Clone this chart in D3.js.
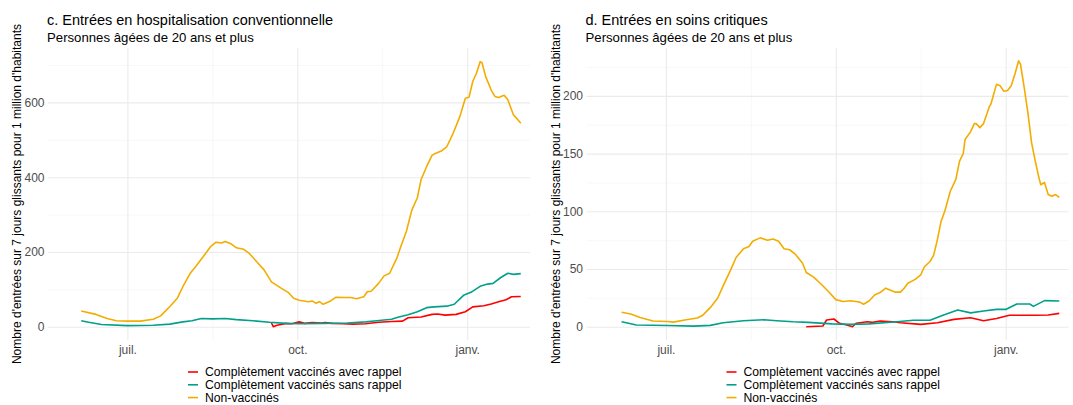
<!DOCTYPE html>
<html lang="fr">
<head>
<meta charset="utf-8">
<script src="https://cdn.jsdelivr.net/npm/d3@7"></script>
<style>
  html, body { margin: 0; padding: 0; background: #ffffff; }
  svg { display: block; font-family: "Liberation Sans", Arial, sans-serif; }
</style>
</head>
<body>
<svg id="chart" width="1073" height="405"></svg>
<script>
// Entrées pour 1 million d'habitants (moyenne glissante 7 jours), 20 ans et plus
const seriesNames = [
  "Complètement vaccinés avec rappel",
  "Complètement vaccinés sans rappel",
  "Non-vaccinés"
];
const seriesColors = ["#FF0000", "#00A08A", "#F2AD00"];

const monthTicks = ["2021-07-01", "2021-10-01", "2022-01-01"];
const monthLabels = ["juil.", "oct.", "janv."];
const monthMinorTicks = ["2021-08-16", "2021-11-16"];
const xDomain = ["2021-05-19", "2022-02-04"];

// c. Hospitalisation conventionnelle
const hospRappel = [
  ["2021-09-17",10],["2021-09-18",0],["2021-09-20",4],["2021-09-25",9],["2021-09-28",8],
  ["2021-10-02",13],["2021-10-05",9],["2021-10-09",11],["2021-10-14",10],["2021-10-16",11],
  ["2021-10-20",9],["2021-10-26",8],["2021-10-31",7],["2021-11-07",8],["2021-11-14",12],
  ["2021-11-21",14],["2021-11-27",15],["2021-11-30",24],["2021-12-07",26],["2021-12-13",33],
  ["2021-12-16",34],["2021-12-20",31],["2021-12-26",33],["2021-12-31",40],["2022-01-04",53],
  ["2022-01-10",56],["2022-01-14",61],["2022-01-18",67],["2022-01-22",72],["2022-01-25",80],
  ["2022-01-30",81]
];
const hospSansRappel = [
  ["2021-06-06",16],["2021-06-10",12],["2021-06-17",6],["2021-07-01",3],["2021-07-15",4],
  ["2021-07-24",7],["2021-07-31",13],["2021-08-05",16],["2021-08-10",22],["2021-08-16",21],
  ["2021-08-23",22],["2021-08-29",19],["2021-09-07",16],["2021-09-16",12],["2021-09-25",9],
  ["2021-10-02",8],["2021-10-15",9],["2021-10-28",10],["2021-11-07",13],["2021-11-13",16],
  ["2021-11-21",20],["2021-11-25",26],["2021-11-30",32],["2021-12-05",40],["2021-12-10",51],
  ["2021-12-14",53],["2021-12-21",55],["2021-12-25",60],["2021-12-30",84],["2022-01-03",92],
  ["2022-01-08",108],["2022-01-12",114],["2022-01-15",116],["2022-01-19",131],["2022-01-23",143],
  ["2022-01-26",140],["2022-01-30",142]
];
const hospNonVaccines = [
  ["2021-06-06",42],["2021-06-14",33],["2021-06-20",22],["2021-06-25",16],["2021-07-01",15],
  ["2021-07-08",15],["2021-07-15",20],["2021-07-19",29],["2021-07-24",54],["2021-07-28",76],
  ["2021-07-31",107],["2021-08-04",143],["2021-08-07",161],["2021-08-11",187],["2021-08-15",214],
  ["2021-08-18",226],["2021-08-21",224],["2021-08-23",228],["2021-08-26",222],["2021-08-29",211],
  ["2021-09-02",207],["2021-09-05",196],["2021-09-09",174],["2021-09-13",152],["2021-09-17",120],
  ["2021-09-22",104],["2021-09-26",92],["2021-09-29",76],["2021-10-02",71],["2021-10-07",67],
  ["2021-10-09",69],["2021-10-11",63],["2021-10-13",67],["2021-10-15",60],["2021-10-19",69],
  ["2021-10-22",79],["2021-10-27",78],["2021-10-30",78],["2021-11-02",75],["2021-11-06",80],
  ["2021-11-08",94],["2021-11-10",95],["2021-11-14",116],["2021-11-17",136],["2021-11-20",143],
  ["2021-11-24",185],["2021-11-26",214],["2021-11-29",254],["2021-12-02",312],["2021-12-05",345],
  ["2021-12-07",393],["2021-12-10",428],["2021-12-13",459],["2021-12-15",464],["2021-12-18",470],
  ["2021-12-21",482],["2021-12-24",513],["2021-12-28",562],["2021-12-31",611],["2022-01-02",614],
  ["2022-01-04",656],["2022-01-06",678],["2022-01-08",709],["2022-01-09",706],["2022-01-11",669],
  ["2022-01-14",633],["2022-01-16",616],["2022-01-18",613],["2022-01-21",619],["2022-01-23",607],
  ["2022-01-26",567],["2022-01-28",556],["2022-01-30",544]
];

// d. Soins critiques
const critRappel = [
  ["2021-09-15",0],["2021-09-24",0.6],["2021-09-26",5.8],["2021-09-30",6.7],["2021-10-03",3],
  ["2021-10-07",1.5],["2021-10-10",0],["2021-10-12",3],["2021-10-18",4.3],["2021-10-21",3.8],
  ["2021-10-25",5],["2021-11-01",4.3],["2021-11-05",3.5],["2021-11-16",2],["2021-11-25",3.5],
  ["2021-12-04",6.4],["2021-12-13",7.8],["2021-12-20",5.2],["2021-12-27",7.2],["2022-01-03",10],
  ["2022-01-18",10],["2022-01-24",10.2],["2022-01-30",11.6]
];
const critSansRappel = [
  ["2021-06-07",4.3],["2021-06-15",1.5],["2021-07-02",1],["2021-07-16",0.5],["2021-07-25",1.2],
  ["2021-08-01",3.5],["2021-08-12",5.2],["2021-08-23",6],["2021-08-30",5.2],["2021-09-08",4.3],
  ["2021-09-16",3.8],["2021-09-29",2.5],["2021-10-09",2],["2021-10-19",2.5],["2021-11-03",4.3],
  ["2021-11-12",5.6],["2021-11-21",5.6],["2021-11-28",10],["2021-12-06",14.5],["2021-12-13",12],
  ["2021-12-20",13.6],["2021-12-27",15],["2022-01-01",15],["2022-01-07",19.7],["2022-01-14",19.7],
  ["2022-01-16",17.6],["2022-01-22",22.6],["2022-01-30",22.3]
];
const critNonVaccines = [
  ["2021-06-07",12.5],["2021-06-12",11],["2021-06-17",8],["2021-06-24",5],["2021-07-02",4.5],
  ["2021-07-05",4],["2021-07-12",6],["2021-07-18",7.5],["2021-07-21",10],["2021-07-25",16.5],
  ["2021-07-29",24.7],["2021-08-01",35.4],["2021-08-05",49],["2021-08-08",60],["2021-08-12",67.6],
  ["2021-08-15",69.5],["2021-08-17",74],["2021-08-21",77],["2021-08-25",75],["2021-08-28",76],
  ["2021-08-31",74],["2021-09-03",67.6],["2021-09-06",66.7],["2021-09-09",63],["2021-09-13",55],
  ["2021-09-15",47],["2021-09-19",43],["2021-09-23",37],["2021-09-27",30.5],["2021-10-01",23.5],
  ["2021-10-05",21.8],["2021-10-09",22.5],["2021-10-12",21.8],["2021-10-14",21.3],["2021-10-16",19.5],
  ["2021-10-19",22.3],["2021-10-22",27.5],["2021-10-25",29.6],["2021-10-28",33.4],["2021-10-30",32],
  ["2021-11-02",30],["2021-11-05",30],["2021-11-07",33.4],["2021-11-09",37.7],["2021-11-13",41],
  ["2021-11-16",45],["2021-11-18",52],["2021-11-21",56.5],["2021-11-23",62],["2021-11-25",75.4],
  ["2021-11-27",91.3],["2021-11-29",100],["2021-12-02",117.4],["2021-12-05",127.6],["2021-12-07",143.5],
  ["2021-12-09",150],["2021-12-10",162.3],["2021-12-13",169],["2021-12-15",176],["2021-12-16",176],
  ["2021-12-18",172.5],["2021-12-20",176],["2021-12-23",190],["2021-12-24",193],["2021-12-27",210],
  ["2021-12-29",208.7],["2021-12-31",204],["2022-01-02",204.6],["2022-01-04",208.7],["2022-01-06",219],
  ["2022-01-08",230.4],["2022-01-09",227.5],["2022-01-11",207.3],["2022-01-13",185.5],["2022-01-15",159.5],
  ["2022-01-17",143.5],["2022-01-19",129],["2022-01-20",123],["2022-01-22",125],["2022-01-24",114.5],
  ["2022-01-26",113],["2022-01-28",114.5],["2022-01-30",112]
];

const hospTicks = [0, 200, 400, 600];
const hospMinorTicks = [100, 300, 500, 700];
const critTicks = [0, 50, 100, 150, 200];
const critMinorTicks = [25, 75, 125, 175, 225];

const yAxisTitle = "Nombre d'entrées sur 7 jours glissants pour 1 million d'habitants";
const subtitle = "Personnes âgées de 20 ans et plus";

const panels = [
  {
    title: "c. Entrées en hospitalisation conventionnelle",
    series: [hospRappel, hospSansRappel, hospNonVaccines],
    yDomain: [-35.5, 745.5], ticks: hospTicks, minor: hospMinorTicks, left: 48
  },
  {
    title: "d. Entrées en soins critiques",
    series: [critRappel, critSansRappel, critNonVaccines],
    yDomain: [-11.5, 241.5], ticks: critTicks, minor: critMinorTicks, left: 586.5
  }
];

const parse = d3.utcParse("%Y-%m-%d");
const svg = d3.select("#chart");
const panelW = 482, panelTop = 48, panelBottom = 340;
const font = "Liberation Sans, Arial, sans-serif";

panels.forEach(p => {
  const g = svg.append("g").attr("transform", `translate(${p.left},0)`);
  const x = d3.scaleUtc().domain(xDomain.map(parse)).range([0, panelW]);
  const y = d3.scaleLinear().domain(p.yDomain).range([panelBottom, panelTop]);

  // minor grid
  g.append("g").call(d3.axisLeft(y).tickValues(p.minor).tickSize(-panelW).tickFormat(""))
    .call(a => a.select(".domain").remove())
    .call(a => a.selectAll("line").attr("stroke", "#f4f4f4").attr("stroke-width", 0.6));
  g.append("g").attr("transform", `translate(0,${panelBottom})`)
    .call(d3.axisBottom(x).tickValues(monthMinorTicks.map(parse))
      .tickSize(-(panelBottom - panelTop)).tickFormat(""))
    .call(a => a.select(".domain").remove())
    .call(a => a.selectAll("line").attr("stroke", "#f4f4f4").attr("stroke-width", 0.6));

  // major grid + labels
  g.append("g").call(d3.axisLeft(y).tickValues(p.ticks).tickSize(-panelW).tickPadding(3.5))
    .call(a => a.select(".domain").remove())
    .call(a => a.selectAll("line").attr("stroke", "#ebebeb").attr("stroke-width", 1.1))
    .call(a => a.selectAll("text").attr("fill", "#4d4d4d").attr("font-size", 12)
      .attr("font-family", font));
  g.append("g").attr("transform", `translate(0,${panelBottom})`)
    .call(d3.axisBottom(x).tickValues(monthTicks.map(parse)).tickSize(-(panelBottom - panelTop))
      .tickPadding(5).tickFormat((d, i) => monthLabels[i]))
    .call(a => a.select(".domain").remove())
    .call(a => a.selectAll("line").attr("stroke", "#ebebeb").attr("stroke-width", 1.1))
    .call(a => a.selectAll("text").attr("fill", "#4d4d4d").attr("font-size", 12)
      .attr("font-family", font));

  // lines
  const line = d3.line().x(d => x(parse(d[0]))).y(d => y(d[1]));
  p.series.forEach((s, i) => {
    g.append("path").datum(s).attr("d", line)
      .attr("fill", "none").attr("stroke", seriesColors[i])
      .attr("stroke-width", 1.6).attr("stroke-linejoin", "round");
  });

  // titles
  g.append("text").attr("x", -1).attr("y", 25).attr("font-size", 14.5).attr("fill", "#000")
    .text(p.title);
  g.append("text").attr("x", -1).attr("y", 41.5).attr("font-size", 13.2).attr("fill", "#000")
    .text(subtitle);
  g.append("text").attr("transform", "rotate(-90)")
    .attr("x", -(panelTop + panelBottom) / 2).attr("y", -27).attr("text-anchor", "middle")
    .attr("font-size", 12).attr("fill", "#000").text(yAxisTitle);

  // legend
  const lg = g.append("g").attr("transform", "translate(140,372)");
  seriesNames.forEach((n, i) => {
    const row = lg.append("g").attr("transform", `translate(0,${i * 12.8})`);
    row.append("line").attr("x1", 0).attr("x2", 10).attr("stroke", seriesColors[i]).attr("stroke-width", 1.6);
    row.append("text").attr("x", 17).attr("y", 4.2).attr("font-size", 12.2).attr("fill", "#000").text(n);
  });
});
</script>
</body>
</html>
